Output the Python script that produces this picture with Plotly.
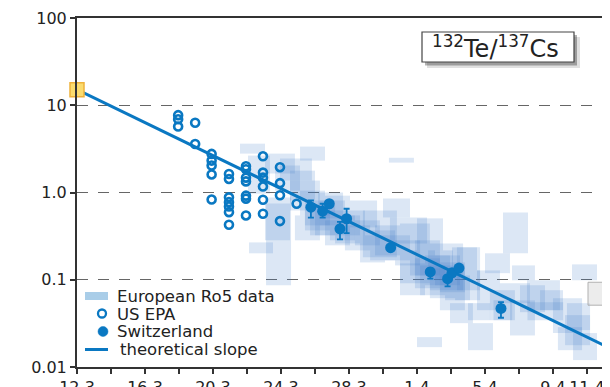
import plotly.graph_objects as go

# ---- data (x = days after 12 March) ----
tick_days = [0, 2, 4, 6, 8, 10, 12, 14, 16, 18, 20, 22, 24, 26, 28, 30]
tick_text = ["12.3", "", "16.3", "", "20.3", "", "24.3", "", "28.3", "", "1.4", "", "5.4", "", "9.4", "11.4"]
y_ticks = [0.01, 0.1, 1, 10, 100]
y_tick_text = ["0.01", "0.1", "1.0", "10", "100"]

legend_labels = ["European Ro5 data", "US EPA", "Switzerland", "theoretical slope"]

# theoretical slope (start / end of line)
slope_days = [0.0, 31.06]
slope_ratio = [15.1, 0.0175]

# US EPA
epa_days = [5.95, 5.95, 5.95,
            6.95, 6.95,
            7.92, 7.92, 7.92, 7.92, 7.92,
            8.94, 8.94, 8.94, 8.94, 8.94, 8.94, 8.94,
            9.94, 9.94, 9.94, 9.94, 9.94, 9.94, 9.94,
            10.94, 10.94, 10.94, 10.94, 10.94, 10.94,
            11.94, 11.94, 11.94, 11.94,
            12.92]
epa_ratio = [7.7, 6.9, 5.7,
             6.3, 3.6,
             2.77, 2.32, 2.04, 1.61, 0.83,
             1.63, 1.43, 0.88, 0.775, 0.69, 0.595, 0.427,
             2.0, 1.85, 1.48, 1.34, 0.92, 0.85, 0.546,
             2.6, 1.69, 1.48, 1.17, 0.826, 0.571,
             1.95, 1.28, 0.93, 0.47,
             0.743]

# Switzerland
ch_days = [13.76, 14.45, 14.84, 15.47, 15.86, 18.45, 20.78, 21.8, 22.06, 22.47, 24.94]
ch_ratio = [0.679, 0.611, 0.743, 0.383, 0.50, 0.233, 0.123, 0.103, 0.12, 0.136, 0.0469]
ch_high = [0.81, 0.743, 0.80, 0.46, 0.651, 0.233, 0.135, 0.112, 0.12, 0.136, 0.0553]
ch_low = [0.514, 0.514, 0.68, 0.29, 0.343, 0.233, 0.103, 0.084, 0.12, 0.136, 0.0367]

# European Ro5 data (time range / ratio range boxes)
ro5_start = [9.59, 13.12, 11.06, 11.65, 12.53, 11.94, 11.12, 10.12, 11.06, 13.41,
             14.0, 14.59, 15.18, 16.06, 16.82, 18.0, 18.41, 19.0, 20.0, 20.76,
             22.35, 18.35, 19.0, 20.65, 21.35, 22.06, 21.94, 23.0, 23.53, 24.0,
             25.06, 24.88, 25.59, 26.47, 27.24, 28.0, 28.29, 29.18, 29.12, 28.82,
             30.06, 20.0, 19.88, 21.06, 15.76, 17.24, 14.18, 12.53, 10.06, 24.29,
             25.47, 13.12, 14.29, 15.47, 16.35, 17.53, 18.71, 19.59, 20.47, 21.35,
             22.24, 18.12, 14.88, 13.71, 20.18, 23.0, 24.5, 26.5,
             13.41, 12.82, 14.59, 16.65, 20.76, 21.65, 19.88, 26.06, 28.71]
ro5_end = [11.06, 14.59, 12.82, 13.12, 14.0, 13.82, 12.59, 11.53, 12.53, 14.88,
           15.47, 16.06, 16.65, 17.65, 18.82, 19.59, 20.59, 20.76, 21.53, 22.71,
           23.71, 19.82, 20.47, 22.12, 22.82, 23.53, 23.29, 24.47, 24.88, 25.47,
           26.53, 26.65, 26.94, 28.41, 28.59, 29.71, 29.71, 30.59, 30.59, 30.18,
           31.47, 21.47, 21.35, 22.53, 17.24, 18.71, 15.65, 14.29, 11.35, 25.76,
           26.94, 14.59, 15.76, 16.94, 17.82, 19.0, 20.18, 21.06, 21.94, 22.82,
           23.71, 19.59, 16.35, 15.18, 21.65, 24.3, 25.6, 28.6,
           14.88, 14.29, 16.06, 18.12, 22.24, 23.12, 21.35, 27.53, 30.18]
ro5_high = [3.63, 3.36, 2.79, 2.04, 1.78, 2.45, 0.877, 0.268, 0.748, 0.81,
            0.622, 0.92, 0.546, 0.81, 0.622, 0.854, 0.518, 0.442, 0.505, 0.261,
            0.235, 2.5, 0.154, 0.217, 0.146, 0.235, 0.0539, 0.0318, 0.128, 0.201,
            0.59, 0.0912, 0.146, 0.0987, 0.0759, 0.0615, 0.0286, 0.0245, 0.150, 0.0539,
            0.0936, 0.022, 0.283, 0.19, 0.42, 0.368, 1.0, 1.37, 2.65, 0.0759,
            0.058, 1.05, 0.81, 0.622, 0.479, 0.42, 0.283, 0.217, 0.19, 0.158,
            0.128, 0.323, 0.546, 0.71, 0.146, 0.0539, 0.0583, 0.0554,
            0.71, 0.546, 0.479, 0.323, 0.135, 0.112, 0.176, 0.0865, 0.0393]
ro5_low = [2.79, 2.32, 1.65, 1.05, 0.81, 1.37, 0.0865, 0.201, 0.283, 0.42,
           0.323, 0.505, 0.261, 0.398, 0.181, 0.518, 0.261, 0.0912, 0.217, 0.0759,
           0.0759, 2.2, 0.0665, 0.0987, 0.0448, 0.128, 0.0318, 0.0156, 0.0448, 0.119,
           0.201, 0.0539, 0.0987, 0.0448, 0.0448, 0.0245, 0.0156, 0.012, 0.0987, 0.0265,
           0.0511, 0.0169, 0.112, 0.0865, 0.217, 0.167, 0.546, 0.622, 0.97, 0.0344,
           0.023, 0.546, 0.42, 0.323, 0.248, 0.19, 0.146, 0.112, 0.0865, 0.072,
           0.0583, 0.167, 0.283, 0.323, 0.0665, 0.0344, 0.0344, 0.0344,
           0.368, 0.283, 0.248, 0.158, 0.0615, 0.0583, 0.08, 0.0425, 0.0178]

BLUE = "#0a78c2"
FONT = "DejaVu Sans"
TXT = "#222"

fig = go.Figure()

for i in range(len(ro5_start)):
    x0, x1, lo, hi = ro5_start[i], ro5_end[i], ro5_low[i], ro5_high[i]
    outline = i == 40
    fig.add_trace(go.Scatter(
        x=[x0, x1, x1, x0, x0], y=[hi, hi, lo, lo, hi],
        mode="lines", fill="toself", name=legend_labels[0],
        fillcolor="rgba(200,200,200,0.35)" if outline else "rgba(70,130,200,0.19)",
        line=dict(width=1 if outline else 0, color="rgba(170,170,170,0.9)" if outline else "rgba(0,0,0,0)"),
        showlegend=False, hoverinfo="skip"))

# theoretical slope
fig.add_trace(go.Scatter(x=slope_days, y=slope_ratio, mode="lines", name=legend_labels[3],
                         line=dict(color=BLUE, width=3), showlegend=False))

# US EPA
fig.add_trace(go.Scatter(x=epa_days, y=epa_ratio, mode="markers", name=legend_labels[1],
                         marker=dict(symbol="circle-open", size=8, color=BLUE, line=dict(width=2.6, color=BLUE)),
                         showlegend=False))

# Switzerland
ch_plus = [h - v for h, v in zip(ch_high, ch_ratio)]
ch_minus = [v - l for v, l in zip(ch_ratio, ch_low)]
fig.add_trace(go.Scatter(x=ch_days, y=ch_ratio, mode="markers", name=legend_labels[2],
                         marker=dict(symbol="circle", size=11, color=BLUE),
                         error_y=dict(type="data", symmetric=False, array=ch_plus, arrayminus=ch_minus,
                                      color=BLUE, thickness=1.8, width=3),
                         showlegend=False))

# start marker of theoretical line
fig.add_trace(go.Scatter(x=slope_days[:1], y=slope_ratio[:1], mode="markers", showlegend=False,
                         marker=dict(symbol="square", size=14, color="#fbdc6e", line=dict(color="#eeb23c", width=1.5)),
                         cliponaxis=False))

# ---- pixel helpers for the hand-placed legend / title box (plot area 77..605 x 18..367 on screen) ----
def px(x):
    return (x - 77) / 528.0

def py(y):
    return 1 - (y - 18) / 349.0

shapes = []
# title box shadow + box
shapes.append(dict(type="rect", xref="paper", yref="paper", x0=px(427), x1=px(580), y0=py(68), y1=py(37),
                   fillcolor="rgba(0,0,0,0.12)", line=dict(width=0), layer="above"))
shapes.append(dict(type="rect", xref="paper", yref="paper", x0=px(425), x1=px(577), y0=py(65.5), y1=py(35),
                   fillcolor="rgba(0,0,0,0.30)", line=dict(width=0), layer="above"))
shapes.append(dict(type="rect", xref="paper", yref="paper", x0=px(422), x1=px(574), y0=py(62), y1=py(32),
                   fillcolor="white", line=dict(color="#444", width=1.2), layer="above"))
# legend symbols
shapes.append(dict(type="rect", xref="paper", yref="paper", x0=px(85), x1=px(108), y0=py(300), y1=py(292),
                   fillcolor="#a9cde8", line=dict(width=0), layer="above"))
shapes.append(dict(type="circle", xref="paper", yref="paper", xsizemode="pixel", ysizemode="pixel",
                   xanchor=px(102), yanchor=py(313.5), x0=-4, x1=4, y0=-4, y1=4,
                   line=dict(color=BLUE, width=2.3), layer="above"))
shapes.append(dict(type="circle", xref="paper", yref="paper", xsizemode="pixel", ysizemode="pixel",
                   xanchor=px(103), yanchor=py(331.5), x0=-5, x1=5, y0=-5, y1=5,
                   fillcolor=BLUE, line=dict(color=BLUE, width=0.5), layer="above"))
shapes.append(dict(type="line", xref="paper", yref="paper", x0=px(85), x1=px(108), y0=py(349.5), y1=py(349.5),
                   line=dict(color=BLUE, width=3), layer="above"))

annotations = [
    dict(xref="paper", yref="paper", x=px(495), y=py(47.5), text="<sup>132</sup>Te/<sup>137</sup>Cs",
         showarrow=False, font=dict(family=FONT, size=24, color=TXT), xanchor="center", yanchor="middle"),
]
legend_rows = [296, 314, 331.5, 349.5]
legend_x = [115, 115, 115, 118]
for lbl, ry, lx in zip(legend_labels, legend_rows, legend_x):
    annotations.append(dict(xref="paper", yref="paper", x=px(lx), y=py(ry), text=lbl, showarrow=False,
                            xanchor="left", yanchor="middle", font=dict(family=FONT, size=16.5, color=TXT)))

# the page puts the figure 8 px in from the top-left corner, so the figure is 8 px smaller
fig.update_layout(
    width=602, height=379,
    margin=dict(l=69, r=5, t=10, b=20),
    paper_bgcolor="white", plot_bgcolor="white",
    font=dict(family=FONT, size=16, color=TXT),
    showlegend=False,
    xaxis=dict(range=[0, 31.06], tickmode="array", tickvals=tick_days, ticktext=tick_text,
               ticks="outside", ticklen=5, tickwidth=1.5, tickcolor="#333",
               showline=True, linecolor="#333", linewidth=2, mirror=True, automargin=False,
               showgrid=False, zeroline=False, tickfont=dict(size=16)),
    yaxis=dict(type="log", range=[-2, 2], tickmode="array", tickvals=y_ticks, ticktext=y_tick_text,
               ticks="outside", ticklen=5, tickwidth=1.5, tickcolor="#333",
               showline=True, linecolor="#333", linewidth=2, mirror=True, automargin=False,
               showgrid=True, gridcolor="#666", gridwidth=1.2, griddash="11px,10px",
               zeroline=False, tickfont=dict(size=16)),
    shapes=shapes,
    annotations=annotations,
)

fig.write_html("out.html")
